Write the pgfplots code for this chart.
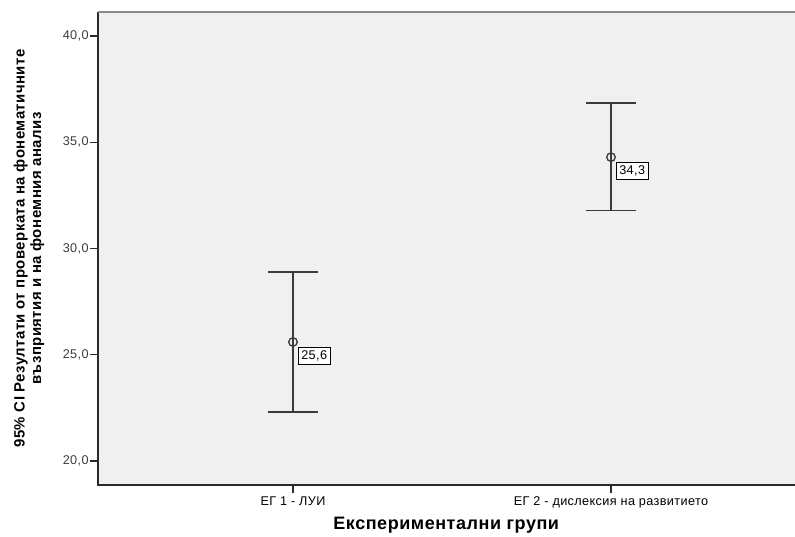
\documentclass[border=0pt]{standalone}
\usepackage{fontspec}
\setmainfont[LetterSpace=3]{Liberation Sans}
\usepackage{pgfplots}
\pgfplotsset{compat=1.18}
\usepackage{pgfplotstable}

\definecolor{panel}{HTML}{F0F0F0}
\definecolor{frameDark}{HTML}{2A2A2A}
\definecolor{frameTop}{HTML}{8C8C8C}
\definecolor{barc}{HTML}{3A3A3A}
\definecolor{ticklab}{HTML}{3C3C3C}

% group means with half-widths of the 95% confidence interval
\pgfplotstableread{
x  mean  eplus  eminus
1  25.6  3.29   3.29
2  34.3  2.54   2.51
}\cidata

\begin{document}
\begin{tikzpicture}[x=1pt,y=1pt]
\begin{axis}[
  at={(73.5pt,38.25pt)}, anchor=south west,
  scale only axis,
  width=522.75pt, height=354.75pt,
  xmin=0.3868, xmax=2.5786,
  ymin=18.87, ymax=41.13,
  axis background/.style={fill=panel},
  axis line style={draw=none},
  xtick={1,2},
  xticklabels={ЕГ 1 - ЛУИ, ЕГ 2 - дислексия на развитието},
  ytick={20,25,30,35,40},
  yticklabel style={/pgf/number format/fixed, /pgf/number format/fixed zerofill,
    /pgf/number format/precision=1, /pgf/number format/use comma, xshift=2.5pt},
  /pgf/number format/assume math mode=true,
  tick align=outside,
  major tick length=6pt,
  tick style={frameDark, line width=0.8pt},
  xtick pos=bottom, ytick pos=left,
  ticklabel style={font=\fontsize{9.5}{10}\selectfont, color=ticklab},
  xticklabel style={color=black, yshift=1pt},
  xlabel={\textbf{Експериментални групи}},
  xlabel style={font=\fontsize{13.5}{15}\selectfont, at={(axis description cs:0.5,-0.0951)}, anchor=base},
  ylabel={\textbf{\shortstack{95\% CI Резултати от проверката на фонематичните\\[-1pt]възприятия и на фонемния анализ}}},
  ylabel style={font=\fontsize{11.2}{12.5}\selectfont, at={(axis description cs:-0.099,0.5)}, anchor=center},
  clip=false,
]
\addplot[
  barc, line width=1.1pt,
  mark=o, mark size=3.2pt, mark options={line width=1pt, fill=none},
  error bars/.cd, y dir=both, y explicit,
  error bar style={barc, line width=1.1pt},
  error mark options={rotate=90, mark size=18.75pt, barc, line width=1.1pt},
] table[x=x, y=mean, y error plus=eplus, y error minus=eminus, only marks] {\cidata};
\addplot[
  only marks, mark=none,
  nodes near coords={\pgfmathprintnumber[fixed, fixed zerofill, precision=1, use comma]{\pgfplotspointmeta}},
  every node near coord/.append style={anchor=north west, xshift=3.7pt, yshift=-3.7pt,
    draw=black, line width=0.6pt, fill=white, inner xsep=2.2pt, inner ysep=2.4pt,
    font=\fontsize{9.5}{10}\selectfont, text=black},
] table[x=x, y=mean] {\cidata};
% frame: dark left and bottom edges, lighter top edge
\draw[frameDark, line width=1.1pt] (rel axis cs:0,1) -- (rel axis cs:0,0) -- (rel axis cs:1,0);
\draw[frameTop, line width=1.6pt] (rel axis cs:0,1) -- (rel axis cs:1,1);
\end{axis}
\pgfresetboundingbox
\useasboundingbox (0,0) rectangle (596.25pt,402pt);
\end{tikzpicture}
\end{document}
